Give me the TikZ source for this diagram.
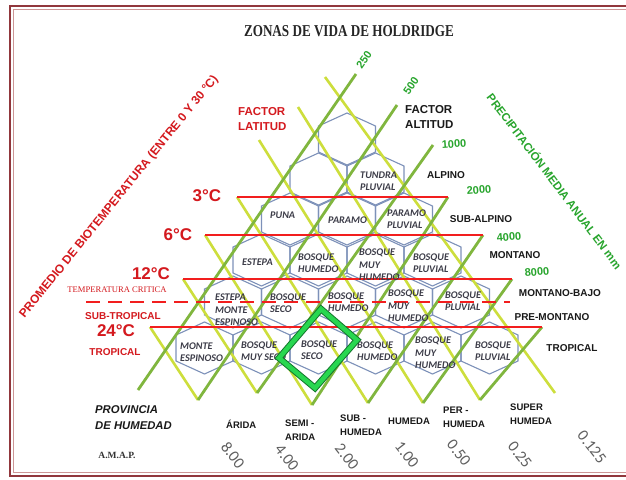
\documentclass[tikz,border=0pt]{standalone}
\usepackage{fontspec}
\setmainfont{Liberation Sans}
\newfontfamily\hexfont{Carlito}
\newfontfamily\serfont{Liberation Serif}
\definecolor{redline}{RGB}{242,30,30}
\definecolor{redtext}{RGB}{212,25,30}
\definecolor{yline}{RGB}{205,222,60}
\definecolor{gline}{RGB}{128,182,62}
\definecolor{gtext}{RGB}{40,165,45}
\definecolor{hexc}{RGB}{125,145,185}
\definecolor{hext}{RGB}{60,60,72}
\definecolor{frameout}{RGB}{145,55,60}
\definecolor{framein}{RGB}{205,150,150}
\definecolor{diagin}{RGB}{40,215,80}
\definecolor{diagout}{RGB}{20,120,45}
\definecolor{numgray}{RGB}{95,95,95}
\begin{document}
\begin{tikzpicture}[x=1pt,y=-1pt,
  hexline/.style={draw=hexc,line width=1.1pt},
  yl/.style={draw=yline,line width=2.6pt},
  gl/.style={draw=gline,line width=2.8pt},
  redl/.style={draw=redline,line width=2.8pt},
  hexlbl/.style={anchor=west,align=left,text=hext,inner sep=0pt,font=\hexfont\bfseries\itshape\fontsize{10.2}{12.5}\selectfont},
  tempbig/.style={text=redtext,inner sep=0pt,font=\bfseries\fontsize{17}{19}\selectfont},
  redsmall/.style={text=redtext,inner sep=0pt,font=\bfseries\fontsize{10}{12}\selectfont},
  beltlbl/.style={text=black!90,inner sep=0pt,font=\bfseries\fontsize{10}{12}\selectfont},
  gnum/.style={text=gtext,inner sep=0pt,font=\bfseries\fontsize{11}{13}\selectfont},
  botlbl/.style={anchor=west,align=left,text=black!90,inner sep=0pt,font=\bfseries\fontsize{9.5}{14}\selectfont},
  rotnum/.style={text=numgray,inner sep=0pt,rotate=-52,font=\hexfont\fontsize{16}{18}\selectfont}]
\useasboundingbox (0,0) rectangle (626,479);
\clip (0,0) rectangle (626,479);
\fill[white] (0,0) rectangle (626,479);
% frame
\draw[frameout,line width=2.2pt] (640,6) -- (10,6) -- (10,476) -- (640,476);
\draw[framein,line width=0.8pt] (640,9.5) -- (13.5,9.5) -- (13.5,472.5) -- (640,472.5);
% hexagons
\foreach \r/\cy in {1/139,2/179,3/219,4/260,5/302,6/348}{
  \foreach \i in {1,...,\r}{
    \pgfmathsetmacro\cx{347-28.5*(\r-1)+57*(\i-1)}
    \draw[hexline] (\cx,\cy) +(0,-26) -- +(28.5,-13) -- +(28.5,13) -- +(0,26) -- +(-28.5,13) -- +(-28.5,-13) -- cycle;
  }
}
% lattice points
\coordinate (b0) at (138,390);
\coordinate (b1) at (198,400);
\coordinate (b2) at (257,393);
\coordinate (b3) at (312,405);
\coordinate (b4) at (368,403);
\coordinate (b5) at (423,403);
\coordinate (b6) at (480,400);
\coordinate (b7) at (555,393);
\coordinate (g1t) at (356,74);
\coordinate (g2t) at (397,105);
\coordinate (g3t) at (433,145);
\coordinate (g4t) at (448,197);
\coordinate (g5t) at (483,235);
\coordinate (g6t) at (512,279);
\coordinate (g7t) at (542,327);
\coordinate (y1t) at (325,77);
\coordinate (y2t) at (298,107);
\coordinate (y3t) at (259,140);
\coordinate (y4t) at (237,197);
\coordinate (y5t) at (205,235);
\coordinate (y6t) at (183,279);
\coordinate (y7t) at (150,327);
% yellow lines
\draw[yl] (y1t) -- (b7);
\draw[yl] (y2t) -- (b6);
\draw[yl] (y3t) -- (b5);
\draw[yl] (y4t) -- (b4);
\draw[yl] (y5t) -- (b3);
\draw[yl] (y6t) -- (b2);
\draw[yl] (y7t) -- (b1);
% green lines
\draw[gl] (b0) -- (g1t);
\draw[gl] (b1) -- (g2t);
\draw[gl] (b2) -- (g3t);
\draw[gl] (b3) -- (g4t);
\draw[gl] (b4) -- (g5t);
\draw[gl] (b5) -- (g6t);
\draw[gl] (b6) -- (g7t);
% red belts
\draw[redl] (y4t) -- (g4t);
\draw[redl] (y5t) -- (g5t);
\draw[redl] (y6t) -- (g6t);
\coordinate (dl) at (86,302);
\coordinate (dr) at (510,302);
\draw[redl,dash pattern=on 14pt off 8pt] (dl) -- (dr);
\draw[redl] (y7t) -- (g7t);
% hex labels
\node[hexlbl] (h21) at (360,181) {TUNDRA\\PLUVIAL};
\node[hexlbl] (h30) at (270,215) {PUNA};
\node[hexlbl] (h31) at (328,220) {PARAMO};
\node[hexlbl] (h32) at (387,219) {PARAMO\\PLUVIAL};
\node[hexlbl] (h40) at (242,262) {ESTEPA};
\node[hexlbl] (h41) at (298,263) {BOSQUE\\HUMEDO};
\node[hexlbl] (h42) at (359,265) {BOSQUE\\MUY\\HUMEDO};
\node[hexlbl] (h43) at (413,263) {BOSQUE\\PLUVIAL};
\node[hexlbl] (h50) at (215,310) {ESTEPA\\MONTE\\ESPINOSO};
\node[hexlbl] (h51) at (270,303) {BOSQUE\\SECO};
\node[hexlbl] (h52) at (328,302) {BOSQUE\\HUMEDO};
\node[hexlbl] (h53) at (388,306) {BOSQUE\\MUY\\HUMEDO};
\node[hexlbl] (h54) at (445,301) {BOSQUE\\PLUVIAL};
\node[hexlbl] (h60) at (180,352) {MONTE\\ESPINOSO};
\node[hexlbl] (h61) at (241,351) {BOSQUE\\MUY SECO};
\node[hexlbl] (h62) at (301,350) {BOSQUE\\SECO};
\node[hexlbl] (h63) at (357,351) {BOSQUE\\HUMEDO};
\node[hexlbl] (h64) at (415,353) {BOSQUE\\MUY\\HUMEDO};
\node[hexlbl] (h65) at (475,351) {BOSQUE\\PLUVIAL};
% title
\node[inner sep=0pt,text=black!85] (title) at (349,31) {\scalebox{0.79}[1]{\serfont\bfseries\fontsize{16.6}{18}\selectfont ZONAS DE VIDA DE HOLDRIDGE}};
% axis titles
\node[text=redtext,inner sep=0pt,rotate=51,font=\bfseries\fontsize{12}{14}\selectfont] (biot) at (119,197) {PROMEDIO DE BIOTEMPERATURA (ENTRE 0 Y 30 °C)};
\node[text=gtext,inner sep=0pt,rotate=-53,font=\bfseries\fontsize{11.5}{13}\selectfont] (prec) at (555,181) {PRECIPITACIÓN MEDIA ANUAL EN mm};
% factors
\node[anchor=west,align=left,text=redtext,inner sep=0pt,font=\bfseries\fontsize{11.5}{15}\selectfont] (flat) at (238,119.5) {FACTOR\\LATITUD};
\node[anchor=west,align=left,text=black!90,inner sep=0pt,font=\bfseries\fontsize{11.5}{15}\selectfont] (falt) at (405,117.5) {FACTOR\\ALTITUD};
% temperatures
\node[tempbig] (t3) at (207,196) {3°C};
\node[tempbig] (t6) at (178,235) {6°C};
\node[tempbig] (t12) at (151,274) {12°C};
\node[text=redtext,inner sep=0pt,font=\serfont\fontsize{8.6}{10}\selectfont] (tcrit) at (117,290) {TEMPERATURA CRITICA};
\node[redsmall] (subt) at (123,316) {SUB-TROPICAL};
\node[tempbig] (t24) at (116,331) {24°C};
\node[redsmall] (trop) at (115,352) {TROPICAL};
% belts
\node[beltlbl] (alp) at (446,175) {ALPINO};
\node[beltlbl] (salp) at (481,219) {SUB-ALPINO};
\node[beltlbl] (mont) at (515,255) {MONTANO};
\node[beltlbl] (mbajo) at (560,293) {MONTANO-BAJO};
\node[beltlbl] (pmont) at (552,317) {PRE-MONTANO};
\node[beltlbl] (tropr) at (572,348) {TROPICAL};
% precipitation numbers
\node[gnum,rotate=55] (p250) at (364,60) {250};
\node[gnum,rotate=55] (p500) at (411,86) {500};
\node[gnum,rotate=4] (p1000) at (454,144) {1000};
\node[gnum,rotate=5] (p2000) at (479,190) {2000};
\node[gnum,rotate=5] (p4000) at (509,237) {4000};
\node[gnum,rotate=5] (p8000) at (537,272) {8000};
% humidity provinces
\node[anchor=west,align=left,text=black!90,inner sep=0pt,font=\bfseries\itshape\fontsize{11.3}{16}\selectfont] (prov) at (95,418) {PROVINCIA\\DE HUMEDAD};
\node[botlbl] (arida) at (226,424) {ÁRIDA};
\node[botlbl] (semi) at (285,430) {SEMI -\\ARIDA};
\node[botlbl] (subh) at (340,425) {SUB -\\HUMEDA};
\node[botlbl] (hum) at (388,421) {HUMEDA};
\node[botlbl] (perh) at (443,417.5) {PER -\\HUMEDA};
\node[botlbl] (suph) at (510,414) {SUPER\\HUMEDA};
\node[text=black!80,inner sep=0pt,font=\serfont\bfseries\fontsize{9.5}{11}\selectfont] (amap) at (117,455) {A.M.A.P.};
\node[rotnum] (n1) at (233,455) {8.00};
\node[rotnum] (n2) at (287,458) {4.00};
\node[rotnum] (n3) at (347,457) {2.00};
\node[rotnum] (n4) at (407,455) {1.00};
\node[rotnum] (n5) at (459,453) {0.50};
\node[rotnum] (n6) at (520,455) {0.25};
\node[rotnum] (n7) at (592,447) {0.125};
% highlight diamond
\coordinate (dt) at (321,309);
\coordinate (dR) at (357,340);
\coordinate (db) at (315,388);
\coordinate (dL) at (279,358);
\draw[diagout,line width=6.5pt,line join=miter] (dt) -- (dR) -- (db) -- (dL) -- cycle;
\draw[diagin,line width=4.5pt,line join=miter] (dt) -- (dR) -- (db) -- (dL) -- cycle;
\end{tikzpicture}
\end{document}
